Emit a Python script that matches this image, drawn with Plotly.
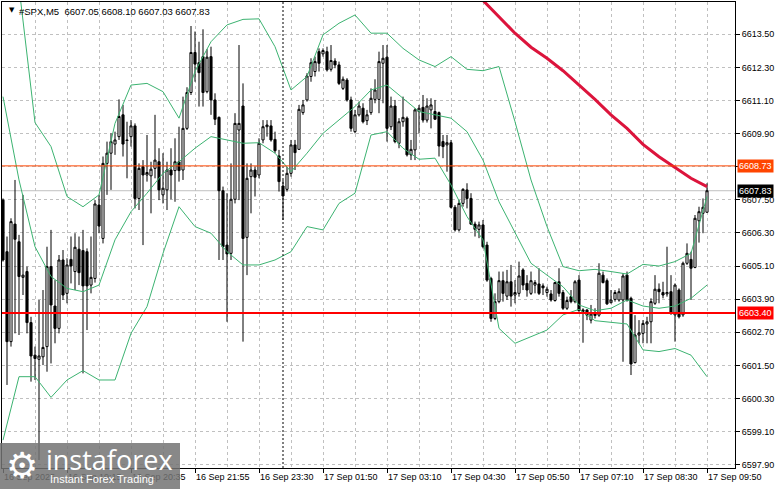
import plotly.graph_objects as go

# ---------------- data ----------------
bar_idx = list(range(177))

open_vals = [6607.49, 6605.62, 6602.36, 6606.62, 6605.98, 6604.69, 6604.90, 6603.05, 6601.87, 6601.72,
             6601.81, 6602.18, 6605.08, 6603.65, 6602.84, 6605.32, 6604.11, 6605.34, 6604.90, 6605.71,
             6605.66, 6605.62, 6604.41, 6604.65, 6607.31, 6606.10, 6608.82, 6609.19, 6609.52, 6609.79,
             6610.58, 6609.67, 6609.79, 6610.18, 6607.55, 6608.70, 6608.40, 6608.37, 6608.64, 6608.88,
             6607.68, 6607.86, 6608.58, 6608.56, 6608.88, 6608.58, 6610.09, 6611.39, 6612.84, 6612.47,
             6612.69, 6611.42, 6612.69, 6611.12, 6610.49, 6607.83, 6605.86, 6605.56, 6607.52, 6610.03,
             6610.90, 6606.14, 6608.34, 6608.58, 6608.40, 6609.67, 6610.15, 6610.18, 6609.69, 6609.09,
             6608.00, 6607.88, 6608.46, 6609.49, 6609.33, 6610.66, 6611.12, 6611.97, 6612.15, 6612.87,
             6612.79, 6612.87, 6612.23, 6612.53, 6612.39, 6611.54, 6611.84, 6611.12, 6609.97, 6610.58,
             6610.82, 6610.37, 6610.66, 6611.14, 6611.14, 6612.45, 6612.67, 6610.15, 6610.90, 6609.55,
             6610.33, 6610.46, 6609.13, 6609.31, 6610.70, 6610.85, 6610.39, 6610.76, 6610.70, 6610.66,
             6609.61, 6609.49, 6609.57, 6607.23, 6606.41, 6607.37, 6607.86, 6607.55, 6606.62, 6606.43,
             6606.59, 6605.86, 6604.65, 6603.20, 6603.81, 6604.57, 6604.01, 6604.53, 6604.05, 6604.11,
             6604.96, 6604.47, 6604.11, 6604.41, 6604.45, 6604.38, 6604.14, 6604.09, 6603.85, 6604.53,
             6604.14, 6603.57, 6603.99, 6603.81, 6604.59, 6603.45, 6603.51, 6603.14, 6603.38, 6603.32,
             6604.77, 6604.57, 6603.77, 6603.89, 6603.87, 6603.87, 6604.77, 6603.93, 6601.60, 6602.60,
             6602.66, 6603.00, 6603.08, 6603.75, 6604.26, 6604.14, 6604.09, 6604.17, 6603.33, 6604.23,
             6603.33, 6605.20, 6605.34, 6605.05, 6606.74, 6607.01, 6607.05]
high_vals = [6607.55, 6606.17, 6606.83, 6608.22, 6606.23, 6607.68, 6605.08, 6603.26, 6602.18, 6603.87,
             6604.23, 6605.80, 6606.41, 6604.59, 6605.50, 6605.68, 6605.38, 6606.17, 6606.29, 6606.17,
             6606.41, 6605.74, 6606.17, 6607.49, 6607.67, 6609.07, 6609.61, 6609.91, 6609.97, 6611.14,
             6610.94, 6610.33, 6610.39, 6610.27, 6608.82, 6608.94, 6609.85, 6608.88, 6610.58, 6609.37,
             6609.19, 6608.88, 6609.37, 6609.73, 6610.15, 6611.24, 6611.58, 6613.80, 6613.60, 6613.23,
             6613.68, 6612.96, 6613.05, 6611.36, 6610.52, 6607.98, 6607.74, 6608.82, 6610.64, 6613.11,
             6611.72, 6608.82, 6608.82, 6608.70, 6609.73, 6610.39, 6610.39, 6610.39, 6609.97, 6609.31,
             6608.22, 6608.70, 6609.67, 6609.67, 6610.94, 6611.12, 6612.09, 6612.63, 6612.69, 6612.99,
             6612.99, 6613.05, 6613.11, 6612.63, 6612.51, 6611.97, 6611.91, 6611.24, 6610.76, 6611.06,
             6611.00, 6610.76, 6611.54, 6611.87, 6612.87, 6613.11, 6613.11, 6611.24, 6611.12, 6610.46,
             6611.24, 6610.52, 6609.67, 6610.82, 6610.94, 6611.30, 6611.18, 6611.18, 6611.12, 6610.70,
             6609.85, 6609.85, 6609.67, 6607.31, 6607.49, 6607.92, 6608.10, 6607.74, 6606.71, 6606.71,
             6606.77, 6605.98, 6604.71, 6604.11, 6604.90, 6604.90, 6604.96, 6605.14, 6604.59, 6605.26,
             6605.02, 6604.77, 6604.90, 6604.59, 6605.02, 6604.47, 6604.35, 6604.23, 6604.53, 6605.02,
             6604.23, 6603.99, 6604.23, 6604.59, 6604.77, 6603.57, 6603.53, 6603.69, 6603.57, 6605.20,
             6604.90, 6604.65, 6604.23, 6604.23, 6604.29, 6604.84, 6604.90, 6603.99, 6603.32, 6603.14,
             6603.14, 6603.26, 6603.93, 6604.77, 6604.47, 6604.53, 6605.80, 6604.77, 6604.47, 6604.29,
             6605.26, 6605.92, 6605.62, 6606.95, 6607.25, 6607.55, 6608.10]
low_vals = [6605.26, 6600.79, 6602.18, 6602.66, 6602.60, 6604.05, 6602.66, 6600.91, 6600.97, 6598.07,
            6601.51, 6601.27, 6601.57, 6602.30, 6602.66, 6603.87, 6603.75, 6604.47, 6604.23, 6604.41,
            6601.21, 6602.78, 6604.11, 6604.50, 6606.29, 6605.92, 6607.68, 6607.86, 6609.13, 6609.67,
            6609.07, 6608.28, 6609.43, 6607.19, 6607.13, 6605.86, 6608.16, 6607.01, 6608.28, 6607.49,
            6607.37, 6607.13, 6607.52, 6607.43, 6608.16, 6608.22, 6610.03, 6611.30, 6611.78, 6610.88,
            6610.88, 6611.36, 6610.58, 6610.21, 6605.32, 6605.32, 6603.08, 6605.32, 6607.37, 6607.49,
            6602.36, 6604.77, 6607.01, 6607.62, 6608.28, 6609.55, 6609.79, 6609.61, 6609.19, 6607.80,
            6606.77, 6607.80, 6608.34, 6608.58, 6609.31, 6610.58, 6611.06, 6611.78, 6611.97, 6612.15,
            6612.69, 6612.15, 6612.15, 6612.27, 6611.66, 6611.48, 6611.06, 6609.97, 6609.91, 6610.52,
            6610.27, 6610.21, 6610.58, 6611.00, 6610.64, 6611.00, 6609.61, 6610.03, 6609.55, 6609.37,
            6610.15, 6609.07, 6608.94, 6608.94, 6609.91, 6610.30, 6610.30, 6610.09, 6610.40, 6609.07,
            6609.01, 6608.52, 6607.19, 6606.35, 6606.35, 6607.25, 6607.19, 6606.59, 6606.17, 6606.11,
            6605.74, 6604.53, 6603.08, 6603.14, 6603.75, 6603.81, 6603.87, 6603.63, 6603.75, 6603.99,
            6604.23, 6603.99, 6604.05, 6604.11, 6604.05, 6604.05, 6603.99, 6603.81, 6603.81, 6603.99,
            6603.51, 6603.51, 6603.75, 6603.75, 6603.45, 6602.32, 6603.14, 6603.02, 6603.20, 6603.26,
            6604.47, 6603.69, 6603.75, 6603.81, 6603.81, 6601.63, 6603.81, 6601.15, 6601.57, 6602.30,
            6602.30, 6602.30, 6602.30, 6603.69, 6603.75, 6603.93, 6603.99, 6603.33, 6602.36, 6603.20,
            6603.26, 6605.14, 6603.87, 6605.02, 6605.95, 6606.29, 6607.03]
close_vals = [6605.32, 6602.36, 6606.71, 6606.07, 6604.72, 6604.77, 6603.05, 6601.84, 6601.75, 6601.84,
              6602.15, 6605.08, 6603.69, 6602.84, 6605.32, 6604.05, 6605.14, 6605.10, 6605.78, 6604.86,
              6604.38, 6604.38, 6604.69, 6607.35, 6606.55, 6608.82, 6609.19, 6609.61, 6609.67, 6610.52,
              6609.52, 6609.65, 6610.18, 6607.55, 6608.64, 6608.40, 6608.49, 6608.61, 6608.94, 6607.86,
              6607.92, 6608.58, 6608.40, 6608.88, 6608.56, 6610.09, 6611.39, 6612.84, 6612.42, 6612.11,
              6611.39, 6612.67, 6611.12, 6610.42, 6607.83, 6605.80, 6605.54, 6607.52, 6610.27, 6610.27,
              6606.10, 6608.28, 6608.58, 6608.32, 6609.55, 6610.15, 6610.21, 6609.67, 6609.28, 6608.16,
              6607.64, 6608.46, 6609.49, 6609.21, 6610.78, 6610.94, 6611.99, 6612.47, 6612.51, 6612.45,
              6612.91, 6612.21, 6612.55, 6612.39, 6611.72, 6611.87, 6611.12, 6610.09, 6610.58, 6610.90,
              6610.33, 6610.58, 6611.18, 6611.48, 6612.51, 6612.63, 6610.09, 6610.90, 6609.61, 6610.33,
              6610.49, 6609.13, 6609.33, 6610.76, 6610.82, 6610.39, 6610.90, 6610.94, 6610.42, 6609.45,
              6609.43, 6609.57, 6607.23, 6606.41, 6607.37, 6607.88, 6607.55, 6606.62, 6606.43, 6606.59,
              6605.80, 6604.59, 6603.20, 6603.81, 6604.57, 6604.11, 6604.53, 6604.01, 6604.14, 6604.74,
              6604.41, 6604.23, 6604.57, 6604.50, 6604.11, 6604.31, 6604.26, 6603.87, 6604.50, 6604.11,
              6603.57, 6603.85, 6603.81, 6604.53, 6603.48, 6603.51, 6603.32, 6603.36, 6603.31, 6604.84,
              6604.50, 6603.73, 6603.87, 6604.14, 6604.17, 6604.74, 6603.87, 6601.55, 6602.60, 6602.68,
              6603.02, 6603.08, 6603.81, 6604.26, 6604.17, 6604.05, 6604.14, 6603.39, 6604.41, 6603.26,
              6605.20, 6605.56, 6605.02, 6606.83, 6607.07, 6607.23, 6607.83]

# Bollinger bands, read every 4 bars
band_idx = list(range(0, 177, 4))
bb_upper = [6623.69, 6615.23, 6610.30, 6609.43, 6607.62, 6607.25, 6607.68, 6610.27, 6611.66, 6611.72,
            6611.42, 6610.46, 6612.15, 6613.23, 6613.84, 6614.04, 6614.06, 6613.05, 6611.48, 6611.97,
            6613.48, 6613.90, 6614.20, 6613.54, 6613.54, 6612.99, 6612.57, 6612.33, 6612.69, 6612.23,
            6612.18, 6612.33, 6610.33, 6608.22, 6606.53, 6605.08, 6604.93, 6604.98, 6604.90, 6604.81,
            6605.16, 6605.10, 6605.26, 6605.56, 6607.62]
bb_middle = [6611.24, 6608.22, 6605.80, 6604.72, 6604.29, 6604.17, 6604.41, 6606.05, 6607.07, 6607.74,
             6608.46, 6608.88, 6609.37, 6609.79, 6609.67, 6609.55, 6609.57, 6609.19, 6608.52, 6609.19,
             6609.91, 6610.40, 6610.88, 6611.48, 6611.66, 6611.18, 6610.70, 6610.58, 6610.46, 6609.97,
             6608.94, 6607.43, 6606.29, 6605.20, 6604.77, 6604.35, 6603.69, 6603.48, 6603.57, 6603.87,
             6603.65, 6603.57, 6603.65, 6603.93, 6604.41]
bb_lower = [6598.79, 6601.09, 6601.09, 6600.34, 6600.97, 6601.31, 6600.97, 6600.97, 6602.66, 6603.63,
            6605.56, 6607.25, 6606.53, 6606.29, 6605.62, 6605.14, 6605.14, 6605.32, 6605.62, 6606.53,
            6606.41, 6607.37, 6607.74, 6609.85, 6609.97, 6609.37, 6608.97, 6609.01, 6608.04, 6606.89,
            6606.05, 6602.84, 6602.30, 6602.54, 6602.78, 6603.33, 6603.53, 6603.12, 6603.05, 6603.00,
            6602.06, 6602.00, 6602.11, 6601.87, 6601.09]

# slow moving average (red line)
ma_idx = [116, 120, 124, 128, 132, 136, 140, 144, 148, 152, 156, 160, 164, 168, 172, 176]
ma_vals = [6615.32, 6614.72, 6614.14, 6613.54, 6613.03, 6612.63, 6612.18, 6611.66, 6611.14, 6610.58,
           6610.09, 6609.51, 6609.06, 6608.67, 6608.28, 6607.98]

# axis ticks
x_tick_idx = [0, 16, 32, 48, 64, 80, 96, 112, 128, 144, 160, 176]
x_tick_text = ["16 Sep 2025", "16 Sep 19:15", "16 Sep 20:35", "16 Sep 21:55", "16 Sep 23:30",
               "17 Sep 01:50", "17 Sep 03:10", "17 Sep 04:30", "17 Sep 05:50", "17 Sep 07:10",
               "17 Sep 08:30", "17 Sep 09:50"]
x_grid_idx = list(range(8, 177, 8))
y_tick_vals = [6613.50, 6612.30, 6611.10, 6609.90, 6608.70, 6607.50, 6606.30, 6605.10,
               6603.90, 6602.70, 6601.50, 6600.30, 6599.10, 6597.90]
y_tick_text = ["6613.50", "6612.30", "6611.10", "6609.90", "", "6607.50", "6606.30", "6605.10",
               "6603.90", "6602.70", "6601.50", "6600.30", "6599.10", "6597.90"]

day_separator_idx = 70
level_upper = 6608.73
level_lower = 6603.40
bid_price = 6607.83
header = "#SPX,M5  6607.05 6608.10 6607.03 6607.83"

# ---------------- figure ----------------
FONT = "Liberation Sans, Arial, sans-serif"
band_color = "#3CB371"
PW, PH = 733, 466  # plot area size in px

fig = go.Figure()

for yb in (bb_upper, bb_middle, bb_lower):
    fig.add_trace(go.Scatter(x=band_idx, y=yb, mode="lines",
                             line=dict(color=band_color, width=1), hoverinfo="skip"))

fig.add_trace(go.Candlestick(
    x=bar_idx, open=open_vals, high=high_vals, low=low_vals, close=close_vals,
    increasing=dict(line=dict(color="black", width=1), fillcolor="white"),
    decreasing=dict(line=dict(color="black", width=1), fillcolor="black"),
    whiskerwidth=0, hoverinfo="skip"))

fig.add_trace(go.Scatter(x=ma_idx, y=ma_vals, mode="lines",
                         line=dict(color="#DC143C", width=3), hoverinfo="skip"))

shapes = [
    dict(type="line", xref="x", yref="paper", x0=day_separator_idx, x1=day_separator_idx, y0=0, y1=1,
         line=dict(color="black", width=1, dash="2px,2px"), layer="above"),
    dict(type="line", xref="paper", yref="y", x0=0, x1=1, y0=bid_price, y1=bid_price,
         line=dict(color="#C0C0C0", width=1), layer="below"),
    dict(type="line", xref="paper", yref="y", x0=0, x1=1, y0=level_upper, y1=level_upper,
         line=dict(color="#FF4500", width=1), layer="above"),
    dict(type="line", xref="paper", yref="y", x0=0, x1=1, y0=level_lower, y1=level_lower,
         line=dict(color="#FF0000", width=2), layer="above"),
    # watermark box
    dict(type="rect", xref="paper", yref="paper", x0=-2 / PW, x1=178 / PW,
         y0=-21 / PH, y1=(489 - 443 - 21) / PH,
         fillcolor="rgba(115,115,115,0.85)", line=dict(width=0), layer="above"),
]

annotations = []
for val, bg in ((level_upper, "#FF4500"), (bid_price, "#000000"), (level_lower, "#FF0000")):
    annotations.append(dict(xref="paper", yref="y", x=1, y=val, xanchor="left", yanchor="middle",
                            xshift=2, text=f"{val:.2f}", showarrow=False, bgcolor=bg,
                            font=dict(family=FONT, size=9, color="white"), borderpad=1))

annotations.append(dict(xref="paper", yref="paper", x=5 / PW, y=1 - 8 / PH, xanchor="left",
                        yanchor="middle", text="▼", showarrow=False,
                        font=dict(family="DejaVu Sans", size=7, color="black")))
annotations.append(dict(xref="paper", yref="paper", x=15 / PW, y=1 - 9 / PH, xanchor="left",
                        yanchor="middle", text=header, showarrow=False,
                        font=dict(family=FONT, size=9.5, color="black")))
# watermark texts
annotations.append(dict(xref="paper", yref="paper", x=2 / PW, y=(489 - 465 - 21) / PH,
                        xanchor="left", yanchor="middle", text="⚙", showarrow=False,
                        font=dict(family="DejaVu Sans", size=36, color="white")))
annotations.append(dict(xref="paper", yref="paper", x=42 / PW, y=(489 - 459 - 21) / PH,
                        xanchor="left", yanchor="middle", text="instaforex", showarrow=False,
                        font=dict(family="Open Sans", size=27, color="white")))
annotations.append(dict(xref="paper", yref="paper", x=46 / PW, y=(489 - 479 - 21) / PH,
                        xanchor="left", yanchor="middle", text="Instant Forex Trading",
                        showarrow=False, font=dict(family=FONT, size=11, color="white")))

fig.update_layout(
    width=781, height=489,
    margin=dict(l=2, r=46, t=2, b=21, pad=0, autoexpand=False),
    paper_bgcolor="white", plot_bgcolor="white",
    showlegend=False, boxgap=0.25,
    shapes=shapes, annotations=annotations,
    font=dict(family=FONT, size=9, color="black"),
    hovermode=False,
)
fig.update_xaxes(
    range=[-0.25, 183], rangeslider=dict(visible=False),
    tickmode="array", tickvals=x_tick_idx, ticktext=x_tick_text,
    ticks="outside", ticklen=4, tickcolor="black", ticklabelposition="outside right",
    showgrid=True, gridcolor="#C0C0C0", griddash="3px,3px", gridwidth=1,
    minor=dict(tickvals=x_grid_idx, showgrid=True, gridcolor="#C0C0C0", griddash="3px,3px", ticks=""),
    showline=True, linecolor="black", linewidth=1, mirror=True, zeroline=False,
    tickfont=dict(family=FONT, size=9, color="black"),
)
fig.update_yaxes(
    range=[6597.78, 6614.67], side="right",
    tickmode="array", tickvals=y_tick_vals, ticktext=y_tick_text,
    ticks="outside", ticklen=4, tickcolor="black",
    showgrid=True, gridcolor="#C0C0C0", griddash="3px,3px", gridwidth=1,
    showline=True, linecolor="black", linewidth=1, mirror=True, zeroline=False,
    tickfont=dict(family=FONT, size=9, color="black"),
)

fig.write_html("out.html", config={"displayModeBar": False},
               post_script="document.body.style.margin='0px';document.body.style.padding='0px';")
